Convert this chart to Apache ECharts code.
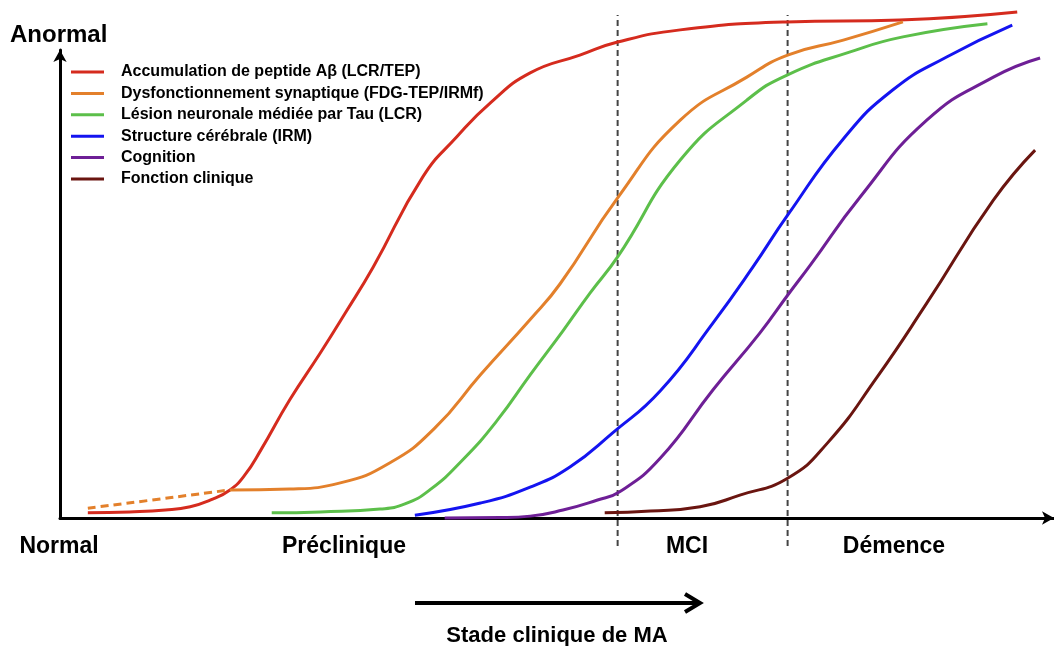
<!DOCTYPE html>
<html>
<head>
<meta charset="utf-8">
<script src="https://cdn.jsdelivr.net/npm/echarts@6/dist/echarts.min.js"></script>
<style>
  html, body { margin: 0; padding: 0; background: #fff; }
  #chart { width: 1054px; height: 646px; }
</style>
</head>
<body>
<div id="chart"></div>
<script>
  // x : progression (0-100), y : degre d'anomalie (0 = normal, 100 = haut de l'axe)
  var seriesNames = [
    'Accumulation de peptide Aβ (LCR/TEP)',
    'Dysfonctionnement synaptique (FDG-TEP/IRMf)',
    'Lésion neuronale médiée par Tau (LCR)',
    'Structure cérébrale (IRM)',
    'Cognition',
    'Fonction clinique'
  ];
  var seriesColors = ['#d52b1e', '#e3802b', '#5cbf4a', '#1414f0', '#6e1f96', '#6a1510'];

  var amyloid = [[2.8,1.1],[7.0,1.3],[10.6,1.7],[13.1,2.4],[15.1,3.8],[17.1,6.0],[18.6,9.2],[20.2,14.5],
    [23.1,25.2],[26.2,35.3],[28.7,43.8],[31.5,53.6],[36.5,72.9],[39.9,81.4],[43.3,88.7],[47.3,95.1],
    [52.3,98.9],[56.1,101.7],[62.4,104.3],[73.1,106.0],[84.5,106.4],[96.3,108.1]];
  var synapticEarly = [[2.8,2.1],[9.1,3.8],[17.1,6.0]];
  var synaptic = [[17.1,6.0],[23.1,6.2],[28.2,7.5],[33.2,11.8],[37.7,19.2],[42.3,30.6],[47.3,42.4],
    [50.3,50.0],[56.1,68.4],[62.4,85.0],[69.1,94.2],[73.2,98.9],[78.8,102.1],[84.8,106.0]];
  var tau = [[21.3,1.1],[26.2,1.3],[32.2,1.9],[34.7,3.0],[37.2,6.0],[40.5,12.4],[44.0,20.9],[47.3,30.6],
    [50.6,40.0],[53.3,48.0],[56.1,55.8],[62.4,76.5],[69.1,89.3],[73.2,94.7],[79.5,99.6],[84.8,102.8],
    [93.3,105.6]];
  var brain = [[35.7,0.6],[42.3,3.2],[47.3,6.6],[51.3,10.9],[55.6,18.2],[60.4,27.2],[65.7,41.7],
    [69.7,53.6],[73.2,64.7],[78.8,81.0],[83.8,91.5],[89.2,98.5],[95.8,105.3]];
  var cognition = [[38.7,0],[44.3,0.1],[47.3,0.4],[50.6,1.7],[54.0,3.8],[56.3,5.6],[60.4,12.8],[65.7,27.4],
    [70.4,39.5],[73.2,47.6],[75.5,54.1],[80.5,68.6],[87.2,85.0],[93.9,94.2],[98.6,98.3]];
  var clinical = [[54.8,1.1],[59.4,1.5],[64.4,2.4],[68.4,4.9],[73.2,8.5],[77.2,16.0],[82.2,30.1],
    [87.2,45.9],[93.9,67.9],[98.1,78.6]];

  var stageBounds = [56.1, 73.2];
  var stageSpan = [-6, 107.5];
  var stageLabels = ['Normal', 'Préclinique', 'MCI', 'Démence'];

  var font = '"Liberation Sans", Arial, sans-serif';

  function curve(name, data, color, dashed) {
    return {
      name: name,
      type: 'line',
      data: data,
      smooth: 0.5,
      showSymbol: false,
      symbol: 'none',
      clip: false,
      lineStyle: { color: color, width: 3, type: dashed ? [8, 5] : 'solid' },
      itemStyle: { color: color },
      z: 3
    };
  }

  var series = [
    curve(seriesNames[0], amyloid, seriesColors[0]),
    curve(seriesNames[1], synaptic, seriesColors[1]),
    curve(seriesNames[1], synapticEarly, seriesColors[1], true),
    curve(seriesNames[2], tau, seriesColors[2]),
    curve(seriesNames[3], brain, seriesColors[3]),
    curve(seriesNames[4], cognition, seriesColors[4]),
    curve(seriesNames[5], clinical, seriesColors[5])
  ];
  stageBounds.forEach(function (b) {
    series.push({
      type: 'line',
      data: [[b, stageSpan[0]], [b, stageSpan[1]]],
      symbol: 'none',
      clip: false,
      silent: true,
      lineStyle: { color: '#444', width: 2, type: [6, 4] },
      z: 2
    });
  });

  var stageX = [59, 344, 687, 894];
  var graphics = stageLabels.map(function (t, i) {
    return {
      type: 'text', x: stageX[i], y: 547,
      style: { text: t, font: 'bold 23px ' + font, fill: '#000', align: 'center', verticalAlign: 'middle' }
    };
  });
  graphics.push(
    { type: 'text', x: 10, y: 35,
      style: { text: 'Anormal', font: 'bold 24px ' + font, fill: '#000', align: 'left', verticalAlign: 'middle' } },
    { type: 'line', shape: { x1: 415, y1: 603, x2: 698, y2: 603 }, style: { stroke: '#000', lineWidth: 4 } },
    { type: 'polyline', shape: { points: [[685, 594], [700, 603], [685, 612]] },
      style: { stroke: '#000', lineWidth: 4, fill: null } },
    { type: 'text', x: 557, y: 636,
      style: { text: 'Stade clinique de MA', font: 'bold 22px ' + font, fill: '#000', align: 'center', verticalAlign: 'middle' } }
  );

  var myChart = echarts.init(document.getElementById('chart'));
  var option = {
    backgroundColor: '#fff',
    animation: false,
    grid: { left: 60, right: 0, top: 50, bottom: 128 },
    xAxis: {
      type: 'value', min: 0, max: 100,
      axisLine: { lineStyle: { color: '#000', width: 3 }, symbol: ['none', 'arrow'], symbolSize: [10, 12] },
      axisTick: { show: false }, axisLabel: { show: false }, splitLine: { show: false }
    },
    yAxis: {
      type: 'value', min: 0, max: 100,
      axisLine: { lineStyle: { color: '#000', width: 3 }, symbol: ['none', 'arrow'], symbolSize: [10, 12] },
      axisTick: { show: false }, axisLabel: { show: false }, splitLine: { show: false }
    },
    legend: {
      data: seriesNames,
      orient: 'vertical',
      left: 71, top: 64,
      padding: 0,
      itemWidth: 33, itemHeight: 3,
      itemGap: 5.4,
      icon: 'rect',
      selectedMode: false,
      textStyle: { fontFamily: font, fontWeight: 'bold', fontSize: 16, color: '#000',
        lineHeight: 16, padding: [0, 0, 0, 12] }
    },
    graphic: graphics,
    series: series
  };
  myChart.setOption(option);
</script>
</body>
</html>
